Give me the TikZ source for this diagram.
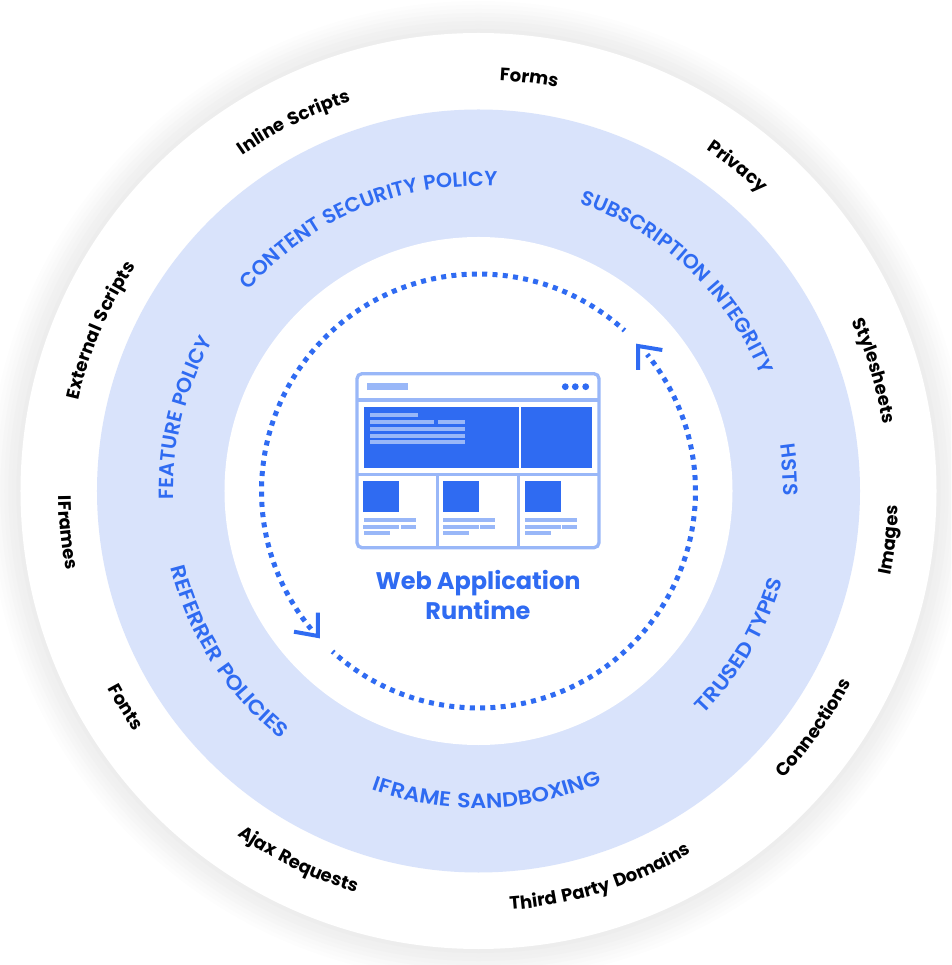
\documentclass[tikz,border=0pt]{standalone}
\usepackage{fontspec}
\usetikzlibrary{decorations.text}
\newfontfamily\lblfamily[LetterSpace=8]{Poppins}
\newfontfamily\bluefamily[LetterSpace=6,BoldFont={Poppins SemiBold}]{Poppins}
\newfontfamily\bluewide[FakeStretch=1.09,LetterSpace=6,BoldFont={Poppins SemiBold},BoldFeatures={FakeStretch=1.09}]{Poppins}
\newfontfamily\titlefamily{Poppins}
\newcommand{\outerf}{\lblfamily\bfseries\fontsize{18}{20}\selectfont}
\newcommand{\bluef}{\color{mainblue}\bluefamily\bfseries\fontsize{20.5}{24}\selectfont}
\newcommand{\blueg}{\color{mainblue}\bluewide\bfseries\fontsize{20.5}{24}\selectfont}
\definecolor{mainblue}{HTML}{2F6BF2}
\definecolor{ringblue}{HTML}{D9E3FB}
\definecolor{barblue}{HTML}{99B7F8}
\newcommand{\cwlabel}[4]{\path[decorate,decoration={text along path,text={|#1|#4},text align=center}] (#3+80:#2) arc[start angle=#3+80,end angle=#3-80,radius=#2];}
\newcommand{\ccwlabel}[4]{\path[decorate,decoration={text along path,text={|#1|#4},text align=center}] (#3-80:#2) arc[start angle=#3-80,end angle=#3+80,radius=#2];}
\tikzset{
  dotline/.style={draw=mainblue,line width=5pt,dash pattern=on 5pt off 5.3pt,dash phase=3pt},
  headtip/.style={draw=mainblue,line width=4pt,miter limit=10},
  frameline/.style={draw=barblue,line width=3.3pt},
  fillbar/.style={fill=barblue},
  fillmain/.style={fill=mainblue},
  titletext/.style={text=mainblue,font=\titlefamily\bfseries\fontsize{24}{29}\selectfont,anchor=center,inner sep=0pt}
}
\begin{document}
\begin{tikzpicture}[x=1pt,y=1pt]
\useasboundingbox (-478.5,-474) rectangle (472.5,491);
\clip (-478.5,-474) rectangle (472.5,491);
% shadow and rings
\foreach \r/\p in {490/0.7,486/1.5,482/2.5,478/3.5,474/4.5,470/5.3,466/6,462/7}{
  \fill[black!\p!white] (0,0) circle[radius=\r];
}
\fill[white] (0,0) circle[radius=458];
\fill[ringblue] (0,0) circle[radius=381.5];
\fill[white] (0,0) circle[radius=254];
% dotted arcs
\draw[dotline] (47.7:217) arc[start angle=47.7,end angle=219.5,radius=217];
\draw[dotline] (227.7:217) arc[start angle=227.7,end angle=399,radius=217];
% outer labels
\cwlabel{\outerf}{411}{83}{Forms}
\cwlabel{\outerf}{410}{116.6}{Inline Scripts}
\cwlabel{\outerf}{410}{157}{External Scripts}
\ccwlabel{\outerf}{420}{185.8}{IFrames}
\ccwlabel{\outerf}{420}{211.5}{Fonts}
\ccwlabel{\outerf}{420}{244}{Ajax Requests}
\ccwlabel{\outerf}{420}{287.4}{Third Party Domains}
\ccwlabel{\outerf}{419}{324.7}{Connections}
\ccwlabel{\outerf}{420}{353.2}{Images}
\cwlabel{\outerf}{410}{16.9}{Stylesheets}
\cwlabel{\outerf}{410}{51.4}{Privacy}
% ring labels
\cwlabel{\bluef}{305}{112.7}{CONTENT SECURITY POLICY}
\cwlabel{\bluef}{305}{46.5}{SUBSCRIPTION INTEGRITY}
\cwlabel{\bluef}{305}{3.9}{HSTS}
\cwlabel{\bluef}{305}{166}{FEATURE POLICY}
\ccwlabel{\blueg}{317}{329.5}{TRUSED TYPES}
\ccwlabel{\blueg}{317}{271.7}{IFRAME SANDBOXING}
\ccwlabel{\blueg}{317}{212.8}{REFERRER POLICIES}
% everything below in image pixel coordinates
\begin{scope}[shift={(-478.5,491)},y=-1pt]
\draw[headtip] (318,612.7) -- (318,636) -- (294,631.7);
\draw[headtip] (638,370) -- (638,346) -- (662.3,350);
\draw[frameline,rounded corners=5pt] (357,373.7) rectangle (599,547.7);
\draw[frameline] (357,400) -- (599,400);
\draw[frameline] (357,474.3) -- (599,474.3);
\draw[frameline] (437.7,474.3) -- (437.7,547.7);
\draw[frameline] (518.3,474.3) -- (518.3,547.7);
\fill[fillbar] (367,383) rectangle (408,390);
\foreach \x in {565.3,575.3,585.7}{\fill[fillmain] (\x,386.7) circle[radius=3.4];}
\fill[fillmain] (364,407) rectangle (519,468);
\fill[fillmain] (521,407) rectangle (592,468);
\fill[fillbar] (370,413) rectangle (418,417);
\fill[fillbar] (370,420) rectangle (434,424);
\fill[fillbar] (438,420) rectangle (465,424);
\fill[fillbar] (370,427) rectangle (465,431);
\fill[fillbar] (370,434) rectangle (465,438);
\fill[fillbar] (370,440) rectangle (465,444);
\foreach \a/\b/\c/\d/\e/\f in {363/399/401/416/364/390,443/479/480/495/443/469,525/561/562/577/525/551}{
  \fill[fillmain] (\a,481) rectangle (\b,512);
  \fill[fillbar] (\e,518) rectangle (\d,522);
  \fill[fillbar] (\a,525) rectangle (\b,529);
  \fill[fillbar] (\c,525) rectangle (\d,529);
  \fill[fillbar] (\e,531) rectangle (\f,535);
}
\node[titletext] (titleone) at (478,583.5) {Web Application};
\node[titletext] (titletwo) at (478,610) {Runtime};
\end{scope}
\end{tikzpicture}
\end{document}
